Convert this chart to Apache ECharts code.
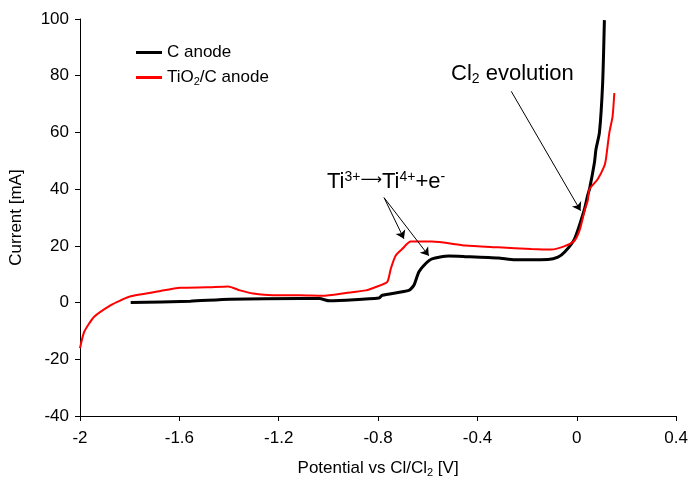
<!DOCTYPE html>
<html>
<head>
<meta charset="utf-8">
<script src="https://cdn.jsdelivr.net/npm/echarts@6/dist/echarts.min.js"></script>
<style>
  html, body { margin: 0; padding: 0; background: #fff; }
  #main { width: 691px; height: 483px; }
</style>
</head>
<body>
<div id="main"></div>
<script>
// potential [V] / current [mA]
var c_anode_V = [-1.796, -1.556, -1.396, -1.116, -1.036, -0.996, -0.796, -0.783, -0.676, -0.656, -0.636, -0.609, -0.583, -0.516, -0.449, -0.316, -0.249, -0.116, -0.076, -0.049, -0.009, 0.031, 0.044, 0.051, 0.071, 0.077, 0.091, 0.104, 0.111];
var c_anode_I = [0, 0.5, 1.2, 1.4, 1.4, 0.6, 1.6, 2.6, 4.3, 6.1, 10.8, 13.7, 15.4, 16.4, 16.2, 15.7, 15.1, 15.2, 16.0, 17.8, 22.5, 33, 38, 40, 49.4, 54, 59.9, 77.4, 99.6];

var tio2_V = [-2.0, -1.983, -1.943, -1.876, -1.836, -1.796, -1.676, -1.596, -1.489, -1.403, -1.356, -1.303, -1.223, -1.116, -1.023, -0.929, -0.849, -0.809, -0.763, -0.749, -0.729, -0.703, -0.669, -0.583, -0.449, -0.316, -0.183, -0.103, -0.049, -0.009, 0.013, 0.033, 0.044, 0.051, 0.084, 0.111, 0.117, 0.131, 0.144, 0.151];
var tio2_I = [-16.1, -10.3, -5.0, -0.9, 0.8, 2.2, 4.1, 5.2, 5.4, 5.7, 4.3, 3.2, 2.6, 2.6, 2.4, 3.4, 4.3, 5.5, 7.3, 11.9, 16.6, 18.9, 21.5, 21.5, 20.1, 19.5, 18.9, 18.7, 19.9, 21.9, 26, 33, 36, 40, 43.5, 48.2, 50.5, 59.9, 65.7, 73.9];

var x_ticks = [-2, -1.6, -1.2, -0.8, -0.4, 0, 0.4];
var y_ticks = [-40, -20, 0, 20, 40, 60, 80, 100];

// arrow annotations: [start, end] in data units
var ti_arrows = [[[-0.776, 37.0], [-0.696, 22.5]], [[-0.776, 37.0], [-0.596, 16.5]]];
var cl_arrow = [[[-0.264, 74.5], [0.015, 32.4]]];

function zip(xs, ys) {
  return xs.map(function (x, i) { return [x, ys[i]]; });
}

var font = '"Liberation Sans", Arial, sans-serif';
var chart = echarts.init(document.getElementById('main'));

var arrowLines = ti_arrows.concat(cl_arrow).map(function (a) {
  return [{ coord: a[0] }, { coord: a[1] }];
});

chart.setOption({
  animation: false,
  backgroundColor: '#fff',
  textStyle: { fontFamily: font },
  grid: { left: 79, right: 11, top: 19, bottom: 65 },
  legend: {
    left: 131, top: 39, orient: 'vertical', itemGap: 8,
    itemWidth: 26, itemHeight: 3, icon: 'rect',
    textStyle: {
      fontFamily: font, fontSize: 17, color: '#000',
      rich: {
        a: { fontFamily: font, fontSize: 17, color: '#000' },
        s: { fontFamily: font, fontSize: 11, color: '#000', padding: [9, 0, 0, 0] }
      }
    },
    formatter: function (name) {
      if (name === 'TiO2/C anode') return '{a|TiO}{s|2}{a|/C anode}';
      return '{a|' + name + '}';
    },
    data: [
      { name: 'C anode', itemStyle: { color: '#000' } },
      { name: 'TiO2/C anode', itemStyle: { color: '#ff0000' } }
    ]
  },
  xAxis: {
    type: 'value', min: -2, max: 0.4, interval: 0.4,
    axisLine: { onZero: false, lineStyle: { color: '#000', width: 1 } },
    axisTick: { lineStyle: { color: '#000' }, length: 5 },
    splitLine: { show: false },
    axisLabel: {
      color: '#000', fontSize: 17, fontFamily: font, margin: 14,
      formatter: function (v) { return x_ticks.indexOf(+v.toFixed(1)) >= 0 ? String(+v.toFixed(1)) : ''; }
    },
    name: '{a|Potential vs Cl/Cl}{s|2}{a| [V]}',
    nameLocation: 'middle', nameGap: 42,
    nameTextStyle: {
      rich: {
        a: { fontFamily: font, fontSize: 17, color: '#000' },
        s: { fontFamily: font, fontSize: 11, color: '#000', padding: [9, 0, 0, 0] }
      }
    }
  },
  yAxis: {
    type: 'value', min: -40, max: 100, interval: 20,
    axisLine: { show: true, onZero: false, lineStyle: { color: '#000', width: 1 } },
    axisTick: { show: true, lineStyle: { color: '#000' }, length: 5 },
    splitLine: { show: false },
    axisLabel: { color: '#000', fontSize: 17, fontFamily: font, margin: 11 },
    name: 'Current [mA]', nameLocation: 'middle', nameGap: 55, nameRotate: 90,
    nameTextStyle: { color: '#000', fontSize: 17, fontFamily: font }
  },
  series: [
    {
      name: 'C anode', type: 'line', data: zip(c_anode_V, c_anode_I),
      showSymbol: false, smooth: 0.2,
      lineStyle: { color: '#000', width: 3 }, itemStyle: { color: '#000' },
      z: 3
    },
    {
      name: 'TiO2/C anode', type: 'line', data: zip(tio2_V, tio2_I),
      showSymbol: false, smooth: 0.2,
      lineStyle: { color: '#ff0000', width: 2 }, itemStyle: { color: '#ff0000' },
      z: 4,
      markLine: {
        silent: true, symbol: ['none', 'arrow'], symbolSize: 8,
        lineStyle: { color: '#000', width: 1, type: 'solid' },
        label: { show: false },
        data: arrowLines
      }
    }
  ],
  graphic: [
    {
      type: 'text', left: 451, top: 63,
      style: {
        text: '{a|Cl}{s|2}{a| evolution}',
        rich: {
          a: { fontFamily: font, fontSize: 22, fill: '#000' },
          s: { fontFamily: font, fontSize: 14, fill: '#000', padding: [11, 0, 0, 0] }
        }
      }
    },
    {
      type: 'text', left: 327, top: 170,
      style: {
        text: '{a|Ti}{p|3+}{r|\u27F6}{a|Ti}{p|4+}{a|+e}{p|-}',
        rich: {
          a: { fontFamily: font, fontSize: 22, fill: '#000' },
          r: { fontFamily: '"DejaVu Sans"', fontSize: 15, fill: '#000', padding: [0, 0, 3, 0] },
          p: { fontFamily: font, fontSize: 14, fill: '#000', padding: [0, 0, 9, 0] }
        }
      }
    }
  ]
});
</script>
</body>
</html>
